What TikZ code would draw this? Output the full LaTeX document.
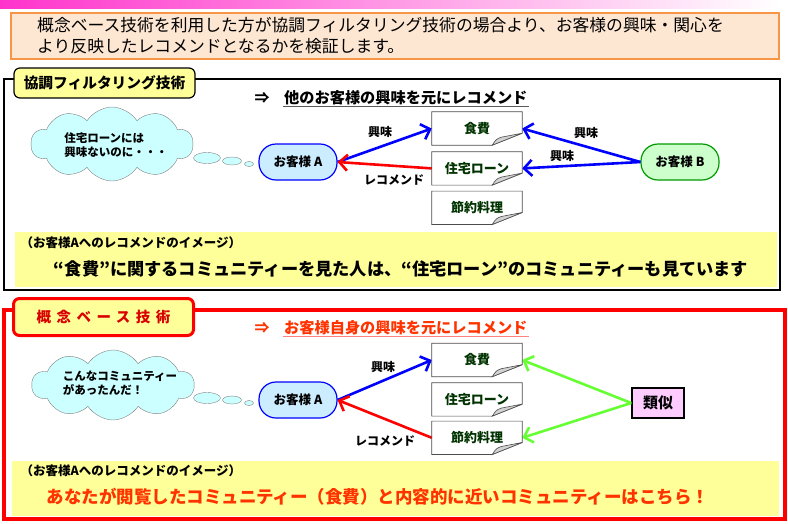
\documentclass[tikz,border=0pt]{standalone}
\usepackage{fontspec}
\setmainfont{Noto Sans CJK JP}
\usepackage{tikz}
\usetikzlibrary{arrows.meta,positioning,shapes.symbols,shapes.geometric,calc}
\definecolor{RecoMagenta}{HTML}{FF33CC}
\definecolor{RecoOrange}{HTML}{F79646}
\definecolor{RecoPeach}{HTML}{FDE6D2}
\definecolor{RecoYellow}{HTML}{FFFF99}
\definecolor{RecoCyan}{HTML}{CCFFFF}
\definecolor{RecoSky}{HTML}{CCECFF}
\definecolor{RecoMint}{HTML}{CCFFCC}
\definecolor{RecoPink}{HTML}{FFCCFF}
\definecolor{RecoBlue}{HTML}{0000FF}
\definecolor{RecoRed}{HTML}{FF0000}
\definecolor{RecoLime}{HTML}{66FF33}
\definecolor{RecoGreen}{HTML}{009900}
\definecolor{RecoLeaf}{HTML}{003300}
\definecolor{RecoVermilion}{HTML}{FF3300}
\newcommand{\pt}[1]{\fontsize{#1}{#1}\selectfont}

\begin{document}
\begin{tikzpicture}[
  x=1pt, y=-1pt,
  every node/.style={font=\pt{12}},
  tabbox/.style={draw=#1, fill=RecoYellow, rounded corners=6pt, minimum width=181pt, minimum height=30pt, inner sep=0pt, font=\pt{14.7}\bfseries},
  person/.style={line width=1.2pt, rounded corners=17pt, minimum width=78pt, minimum height=36pt, inner sep=0pt, font=\pt{12.5}\bfseries},
  doc/.style={minimum width=90pt, minimum height=33pt, inner sep=0pt, text=RecoLeaf, font=\pt{13}\bfseries},
  thought/.style={cloud, cloud puffs=10, cloud puff arc=115, cloud ignores aspect, draw=gray, fill=RecoCyan, minimum width=162pt, minimum height=74pt},
  bubble/.style={ellipse, draw=gray, fill=RecoCyan, inner sep=0pt},
  tag/.style={font=\pt{12}\bfseries, inner sep=1pt},
  imagebox/.style={fill=RecoYellow, minimum height=55pt, inner sep=0pt},
  arrow/.style={-{Straight Barb[length=8pt, width=16pt]}, line width=2.6pt, color=#1}
]
\useasboundingbox (0,0) rectangle (788,523);
\shade[left color=RecoMagenta, right color=white] (0,0) rectangle (780,8);

% intro
\node[draw=RecoOrange, line width=1.5pt, fill=RecoPeach, minimum width=768pt, minimum height=46pt, anchor=north west] (intro) at (10,12) {};
\node[anchor=west, align=left, font=\fontsize{16.8}{21}\selectfont, inner sep=0pt] (introtext) at ([xshift=27pt]intro.west) {概念ベース技術を利用した方が協調フィルタリング技術の場合より、お客様の興味・関心を\\より反映したレコメンドとなるかを検証します。};

% collaborative filtering
\draw[line width=2pt] (4,79) rectangle (780,290);
\node[tabbox=black, line width=1.2pt] (cftab) at (104.5,83) {協調フィルタリング技術};
\node[font=\pt{15}\bfseries] (cfarrow) at (262,98) {⇒};
\node[anchor=west, font=\pt{15.2}\bfseries, inner sep=1pt] (cftitle) at (283,98) {他のお客様の興味を元にレコメンド};
\draw[line width=1pt, gray!70!black] (cftitle.south west) -- (cftitle.south east);

\node[thought] (cloud1) at (112,144) {};
\node[align=left, font=\fontsize{11.5}{14.5}\selectfont\bfseries] (cloudtext1) at (116,145) {住宅ローンには\\興味ないのに・・・};
\node[bubble, minimum width=27pt, minimum height=11pt] (dotA1) at (207,158) {};
\node[bubble, minimum width=19pt, minimum height=8pt] (dotB1) at (232,161) {};
\node[bubble, minimum width=9pt, minimum height=5pt] (dotC1) at (249,164) {};

\node[person, draw=RecoBlue, fill=RecoSky] (custA1) at (298,162) {お客様 A};
\node[person, draw=RecoGreen, fill=RecoMint] (custB1) at (680,162) {お客様 B};

\node[doc] (food1) at (477,128.5) {食費};
\node[doc, below=6.5pt of food1] (loan1) {住宅ローン};
\node[doc, below=6pt of loan1] (cook1) {節約料理};

\draw[arrow=RecoBlue] (custA1.east) -- (food1.west);
\draw[arrow=RecoRed] (loan1.west) -- (custA1.east);
\draw[arrow=RecoBlue] (custB1.west) -- (food1.east);
\draw[arrow=RecoBlue] (custB1.west) -- (loan1.east);
\node[tag] (likeA1) at (380,132) {興味};
\node[tag] (recoA1) at (394,180) {レコメンド};
\node[tag] (likeB1) at (586,133) {興味};
\node[tag] (likeB2) at (562,156) {興味};

\node[imagebox, minimum width=762pt, anchor=north west] (cfimage) at (15,232) {};
\node[anchor=west, font=\pt{12.5}\bfseries] (cfnote) at (17,243) {（お客様Aへのレコメンドのイメージ）};
\node[font=\pt{17.2}\bfseries] (cfresult) at (401,269) {“食費”に関するコミュニティーを見た人は、“住宅ローン”のコミュニティーも見ています};

% concept based
\draw[RecoRed, line width=4pt] (4,310) rectangle (785,519);
\node[tabbox=RecoRed, line width=3pt, minimum height=37pt, minimum width=180pt, text=RecoRed!85!black, font=\pt{14.5}\bfseries\addfontfeature{LetterSpace=38}] (cbtab) at (103.5,317) {概念ベース技術};
\node[font=\pt{15}\bfseries, text=RecoVermilion] (cbarrow) at (262,328) {⇒};
\node[anchor=west, font=\pt{15.2}\bfseries, text=RecoVermilion, inner sep=1pt] (cbtitle) at (283,328) {お客様自身の興味を元にレコメンド};
\draw[line width=1.5pt, RecoRed!50] (cbtitle.south west) -- (cbtitle.south east);

\node[thought, minimum height=70pt] (cloud2) at (113,385) {};
\node[align=left, font=\fontsize{11.5}{14.5}\selectfont\bfseries] (cloudtext2) at (120,383) {こんなコミュニティー\\があったんだ！};
\node[bubble, minimum width=27pt, minimum height=11pt] (dotA2) at (207,398) {};
\node[bubble, minimum width=19pt, minimum height=8pt] (dotB2) at (232,400) {};
\node[bubble, minimum width=9pt, minimum height=5pt] (dotC2) at (249,403) {};

\node[person, draw=RecoBlue, fill=RecoSky] (custA2) at (298,400) {お客様 A};

\node[doc] (food2) at (477,360) {食費};
\node[doc, below=6pt of food2] (loan2) {住宅ローン};
\node[doc, below=5pt of loan2] (cook2) {節約料理};

\node[draw=black, line width=1.5pt, fill=RecoPink, minimum width=52pt, minimum height=30pt, inner sep=0pt, font=\pt{15}\bfseries] (similar) at (658,403) {類似};

\draw[arrow=RecoBlue] (custA2.east) -- (food2.west);
\draw[arrow=RecoRed] (cook2.west) -- (custA2.east);
\draw[arrow=RecoLime] (similar.west) -- (food2.east);
\draw[arrow=RecoLime] (similar.west) -- (cook2.east);
\node[tag] (likeA2) at (383,367) {興味};
\node[tag] (recoA2) at (385,441) {レコメンド};

\node[imagebox, minimum width=767pt, anchor=north west] (cbimage) at (12,461) {};
\node[anchor=west, font=\pt{12.5}\bfseries] (cbnote) at (17,471) {（お客様Aへのレコメンドのイメージ）};
\node[font=\pt{17.5}\bfseries, text=RecoVermilion] (cbresult) at (378,497) {あなたが閲覧したコミュニティー（食費）と内容的に近いコミュニティーはこちら！};

% paper sheets with folded corner
\foreach \d in {food1,loan1,cook1,food2,loan2,cook2}{
  \draw[gray!60!black, line width=0.7pt] (\d.north west) -- (\d.north east) -- ($(\d.south east)+(0,-12)$) -- ($(\d.south east)+(-30,0)$) -- (\d.south west) -- cycle;
  \filldraw[fill=gray!35, draw=gray!60!black, line width=0.6pt] ($(\d.south east)+(0,-12)$) -- ($(\d.south east)+(-30,0)$) .. controls ($(\d.south east)+(-26,-6)$) .. ($(\d.south east)+(-21,-8)$) -- cycle;
}
\end{tikzpicture}
\end{document}
